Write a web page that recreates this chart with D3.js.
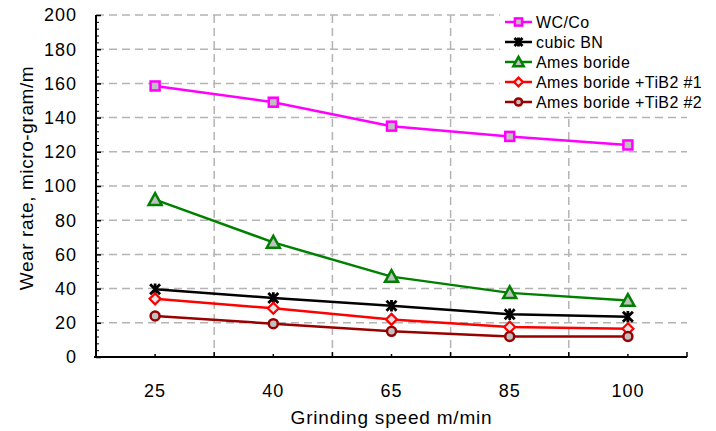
<!DOCTYPE html>
<html>
<head>
<meta charset="utf-8">
<script src="https://cdn.jsdelivr.net/npm/d3@7"></script>
<style>
  html, body { margin: 0; padding: 0; background: #fff; }
  svg { display: block; font-family: "Liberation Sans", Arial, sans-serif; }
</style>
</head>
<body>
<svg id="chart" width="716" height="431"></svg>
<script>
// Grinding speeds (m/min) shown as categories on the x axis
const speeds = ["25", "40", "65", "85", "100"];

// Wear rate (micro-gram/m) for each wheel material
const wcCo       = [158.5, 149, 135, 129, 124];
const cubicBN    = [39.6, 34.5, 30, 25, 23.5];
const amesBoride = [92, 67, 47, 37.5, 33];
const amesTiB2_1 = [34, 28.5, 22, 17.5, 16.5];
const amesTiB2_2 = [24, 19.5, 15, 12, 12];

const seriesNames = ["WC/Co", "cubic BN", "Ames boride", "Ames boride +TiB2 #1", "Ames boride +TiB2 #2"];
const yTicks = [0, 20, 40, 60, 80, 100, 120, 140, 160, 180, 200];

const series = [
  { name: seriesNames[0], values: wcCo,       color: "#ff00ff", marker: "square" },
  { name: seriesNames[1], values: cubicBN,    color: "#000000", marker: "star" },
  { name: seriesNames[2], values: amesBoride, color: "#008000", marker: "triangle" },
  { name: seriesNames[3], values: amesTiB2_1, color: "#ff0000", marker: "diamond" },
  { name: seriesNames[4], values: amesTiB2_2, color: "#990000", marker: "circle" }
];

const svg = d3.select("#chart");
const plotL = 96, plotR = 687, plotT = 15, plotB = 357;

const x = d3.scaleBand().domain(speeds).range([plotL, plotR]);
const y = d3.scaleLinear().domain([0, 200]).range([plotB, plotT]);

const grid = svg.append("g").attr("stroke", "#b4b4b4").attr("stroke-width", 1.5)
  .attr("stroke-dasharray", "8,5");

// horizontal dashed gridlines
grid.selectAll("line.h").data(yTicks.filter(d => d > 0)).join("line")
  .attr("x1", plotL).attr("x2", plotR)
  .attr("y1", d => y(d)).attr("y2", d => y(d));

// vertical dashed gridlines at the category boundaries
grid.selectAll("line.v").data(speeds.slice(1)).join("line")
  .attr("x1", d => x(d)).attr("x2", d => x(d))
  .attr("y1", plotT).attr("y2", plotB);

// Y axis with inward ticks
const yAxis = svg.append("g").attr("transform", `translate(${plotL},0)`)
  .call(d3.axisRight(y).tickValues(yTicks).tickSize(5).tickFormat(""));
yAxis.select(".domain").attr("stroke-width", 2).attr("d", `M0,${plotT}V${plotB}`);
yAxis.selectAll(".tick line").attr("stroke-width", 1.5);
const yMinor = svg.append("g").attr("transform", `translate(${plotL},0)`)
  .call(d3.axisRight(y).tickValues(d3.range(0, 201, 4).filter(v => v % 20 !== 0)).tickSize(3).tickFormat(""));
yMinor.select(".domain").remove();

// Y tick labels
svg.append("g").selectAll("text").data(yTicks).join("text")
  .attr("x", 77).attr("y", d => y(d)).attr("dy", "0.36em")
  .attr("text-anchor", "end").attr("font-size", 18).attr("letter-spacing", 1).attr("fill", "#000")
  .text(d => d);

// X axis: major ticks on the category boundaries, minor ticks at the centres
const xAxis = svg.append("g").attr("transform", `translate(0,${plotB})`);
xAxis.append("line").attr("x1", plotL - 2).attr("x2", plotR).attr("stroke", "#000").attr("stroke-width", 2);
xAxis.selectAll("line.maj").data(speeds.slice(1).map(d => x(d)).concat([plotR])).join("line")
  .attr("x1", d => d).attr("x2", d => d).attr("y1", 0).attr("y2", -5)
  .attr("stroke", "#000").attr("stroke-width", 1.5);
xAxis.selectAll("line.min").data(speeds).join("line")
  .attr("x1", d => x(d) + x.bandwidth() / 2).attr("x2", d => x(d) + x.bandwidth() / 2)
  .attr("y1", 0).attr("y2", -3).attr("stroke", "#000").attr("stroke-width", 1.5);
xAxis.selectAll("text").data(speeds).join("text")
  .attr("x", d => x(d) + x.bandwidth() / 2).attr("y", 40)
  .attr("text-anchor", "middle").attr("font-size", 18).attr("letter-spacing", 1).attr("fill", "#000")
  .text(d => d);

// Axis titles
svg.append("text").attr("x", (plotL + plotR) / 2).attr("y", 424)
  .attr("text-anchor", "middle").attr("font-size", 19).attr("letter-spacing", 0.8)
  .text("Grinding speed m/min");
svg.append("text").attr("transform", "translate(33,178) rotate(-90)")
  .attr("text-anchor", "middle").attr("font-size", 19).attr("letter-spacing", 0.6)
  .text("Wear rate, micro-gram/m");

// marker drawing helper
function drawMarker(g, type, color, s) {
  const fill = "#c0c0c0";
  if (type === "square") {
    g.append("rect").attr("x", -4.5 * s).attr("y", -4.5 * s).attr("width", 9 * s).attr("height", 9 * s)
      .attr("fill", fill).attr("stroke", color).attr("stroke-width", 2.5);
  } else if (type === "star") {
    const r = 5 * s;
    g.append("path").attr("d", `M${-r},${-r}L${r},${r}M${-r},${r}L${r},${-r}M0,${-r * 1.15}V${r * 1.15}`)
      .attr("stroke", color).attr("stroke-width", 2.8).attr("fill", "none");
  } else if (type === "triangle") {
    const r = 6.5 * s;
    g.append("path").attr("d", `M0,${-r}L${r},${r * 0.8}L${-r},${r * 0.8}Z`)
      .attr("fill", fill).attr("stroke", color).attr("stroke-width", 2.5);
  } else if (type === "diamond") {
    const r = 5.5 * s;
    g.append("path").attr("d", `M0,${-r}L${r},0L0,${r}L${-r},0Z`)
      .attr("fill", "#e6e6e6").attr("stroke", color).attr("stroke-width", 2.2);
  } else if (type === "circle") {
    g.append("circle").attr("r", 4.5 * s)
      .attr("fill", fill).attr("stroke", color).attr("stroke-width", 2.5);
  }
}

const cx = i => x(speeds[i]) + x.bandwidth() / 2;
const line = d3.line().x((d, i) => cx(i)).y(d => y(d));

// Series lines and markers
series.forEach(s => {
  const g = svg.append("g");
  g.append("path").datum(s.values).attr("d", line)
    .attr("fill", "none").attr("stroke", s.color).attr("stroke-width", 2.5);
  s.values.forEach((v, i) => {
    const m = g.append("g").attr("transform", `translate(${cx(i)},${y(v)})`);
    drawMarker(m, s.marker, s.color, 1);
  });
});

// Legend
const legend = svg.append("g");
legend.append("rect").attr("x", 500).attr("y", 8).attr("width", 212).attr("height", 104).attr("fill", "#fff");
series.forEach((s, i) => {
  const ly = 22 + i * 20;
  legend.append("line").attr("x1", 505).attr("x2", 532).attr("y1", ly).attr("y2", ly)
    .attr("stroke", s.color).attr("stroke-width", 2.5);
  const m = legend.append("g").attr("transform", `translate(518.5,${ly})`);
  drawMarker(m, s.marker, s.color, 0.8);
  legend.append("text").attr("x", 536).attr("y", ly).attr("dy", "0.36em")
    .attr("font-size", 16).attr("letter-spacing", 0.4).attr("fill", "#000").text(s.name);
});
</script>
</body>
</html>
